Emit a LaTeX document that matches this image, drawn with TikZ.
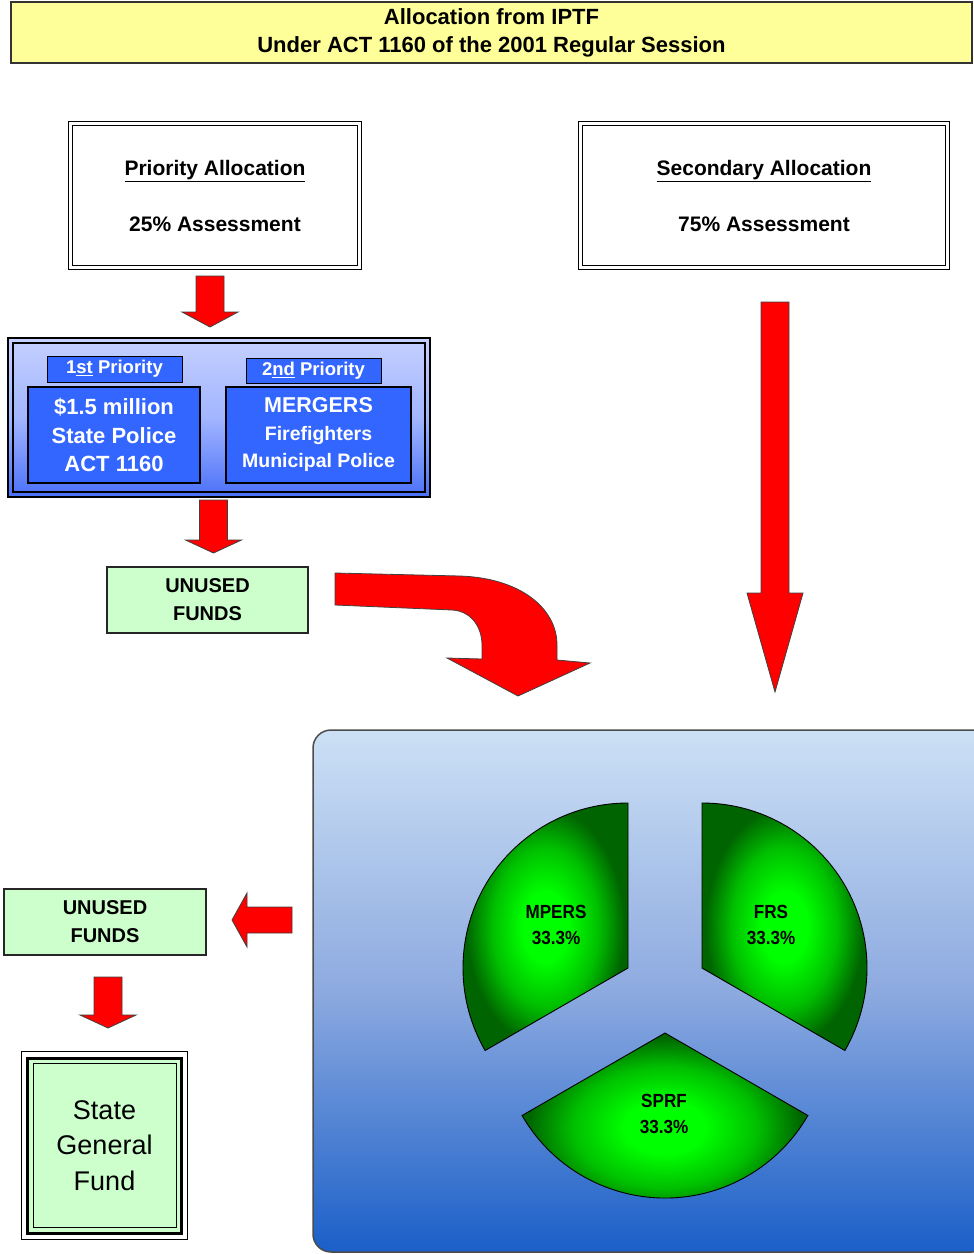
\documentclass[tikz,border=0pt]{standalone}
\usepackage{fontspec}
\setmainfont{Liberation Sans}
\newfontfamily\narrowfont[FakeStretch=0.9]{Liberation Sans}
\usetikzlibrary{calc}

\definecolor{titleyellow}{HTML}{FFFF99}
\definecolor{fundgreen}{HTML}{CCFFCC}
\definecolor{tagblue}{HTML}{3366FF}
\definecolor{blktop}{HTML}{C4D0FF}
\definecolor{blkmid}{HTML}{A2B5FF}
\definecolor{blkbot}{HTML}{4A70F8}
\definecolor{paneltop}{HTML}{CCE0F5}
\definecolor{panelmid}{HTML}{8DAAE0}
\definecolor{panelbot}{HTML}{1A5FC8}
\definecolor{arrowred}{HTML}{FF0000}
\definecolor{sliceA}{HTML}{00FF00}
\definecolor{sliceB}{HTML}{00C000}
\definecolor{sliceC}{HTML}{006400}

\newcommand{\setsz}[2]{\fontsize{#1}{#2}\selectfont}
\pgfdeclareradialshading{greenslice}{\pgfpoint{0bp}{0bp}}{color(0bp)=(sliceA); color(7bp)=(sliceA); color(16bp)=(sliceB); color(24bp)=(sliceC); color(50bp)=(sliceC)}

% block arrows: start, tip, head length
\newcommand{\downblock}[3]{%
  \filldraw[redarrow] let \p1=(#1), \p2=(#2) in
    (\x1-14pt,\y1) -- (\x1+14pt,\y1) -- (\x1+14pt,\y2+#3) -- (\x1+28pt,\y2+#3)
    -- (\x1,\y2) -- (\x1-28pt,\y2+#3) -- (\x1-14pt,\y2+#3) -- cycle;}
\newcommand{\leftblock}[3]{%
  \filldraw[redarrow] let \p1=(#1), \p2=(#2) in
    (\x1,\y1+13pt) -- (\x2+#3,\y1+13pt) -- (\x2+#3,\y1+27pt) -- (\x2,\y1)
    -- (\x2+#3,\y1-27pt) -- (\x2+#3,\y1-13pt) -- (\x1,\y1-13pt) -- cycle;}

\tikzset{
  titlebox/.style={draw=black!80, line width=1.2pt, fill=titleyellow, inner sep=0pt, align=center, font=\bfseries\setsz{22}{28}},
  allocbox/.style={draw, double, double distance=2.4pt, line width=1.3pt, fill=white, inner sep=0pt, align=center, minimum height=144pt, font=\bfseries\setsz{21}{25}},
  prioframe/.style={draw, line width=1.4pt, inner sep=0pt, top color=blktop, bottom color=blkbot, middle color=blkmid},
  priotag/.style={draw, line width=1pt, fill=tagblue, text=white, inner sep=0pt, minimum width=135pt, font=\bfseries\setsz{18.5}{22}},
  priobox/.style={draw, line width=1.2pt, fill=tagblue, text=white, inner sep=0pt, align=center, minimum height=96pt},
  fundsbox/.style={draw=black!85, line width=1.2pt, fill=fundgreen, inner sep=0pt, align=center, minimum width=201pt, minimum height=66pt, font=\bfseries\setsz{20}{28}},
  redarrow/.style={fill=arrowred, draw=black!75, line width=0.8pt},
  slice/.style={draw=black, line width=0.9pt, shading=greenslice},
  slicetext/.style={font=\narrowfont\bfseries\setsz{19}{26}, align=center, inner sep=0pt},
}

\begin{document}
\begin{tikzpicture}[x=1pt,y=-1pt]
\useasboundingbox (0,0) rectangle (974,1254);
\fill[white] (0,0) rectangle (974,1254);

\node[titlebox, minimum width=961pt, minimum height=61pt] (title) at (491.5,32.5) {Allocation from IPTF\\Under ACT 1160 of the 2001 Regular Session};

\node[allocbox, minimum width=289pt] (prio) at (215,195.5) {\underline{Priority Allocation}\\[31pt]25\% Assessment};
\node[allocbox, minimum width=367pt] (second) at (764,195.5) {\underline{Secondary Allocation}\\[31pt]75\% Assessment};

% priority block
\node[prioframe, minimum width=422pt, minimum height=159pt] (prioblk) at (219,417.5) {};
\node[draw, line width=1.2pt, minimum width=412pt, minimum height=149pt] (prioin) at (219,417.5) {};
\node[priotag, minimum height=26pt] (tag1) at (114.5,369) {1\underline{st} Priority};
\node[priotag, minimum height=25pt] (tag2) at (313.5,370.5) {2\underline{nd} Priority};
\node[priobox, minimum width=172pt, font=\bfseries\setsz{22}{28.5}] (police) at (114,435) {\$1.5 million\\State Police\\ACT 1160};
\node[priobox, minimum width=185pt, font=\bfseries\setsz{19.5}{27.5}] (mergers) at (318.5,435) {{\setsz{21.5}{27.5}MERGERS}\\Firefighters\\Municipal Police};

\node[fundsbox] (unused) at (207.5,600) {UNUSED\\FUNDS};

% panel and pie
\node[draw=black!70, line width=1.5pt, rounded corners=18pt, top color=paneltop, bottom color=panelbot, middle color=panelmid, minimum width=677pt, minimum height=522pt] (panel) at (651.5,991) {};
\shadedraw[slice] (628,968) -- ++(0,-165) arc[start angle=-90, end angle=-210, radius=165] -- cycle;
\shadedraw[slice] (702,968) -- ++(0,-165) arc[start angle=-90, end angle=30, radius=165] -- cycle;
\shadedraw[slice] (665,1033) -- ++(-210:165) arc[start angle=-210, end angle=-330, radius=165] -- cycle;
\node[slicetext] (mpers) at (556,925) {MPERS\\33.3\%};
\node[slicetext] (frs) at (771,925) {FRS\\33.3\%};
\node[slicetext] (sprf) at (664,1114) {SPRF\\33.3\%};

\node[fundsbox, minimum width=202pt] (unused2) at (105,922) {UNUSED\\FUNDS};

% state general fund
\node[draw, line width=1pt, fill=white, minimum width=165.5pt, minimum height=187.5pt] (fund) at (104.25,1145.25) {};
\node[draw, line width=3pt, fill=fundgreen, minimum width=154pt, minimum height=175.5pt] (fundmid) at (104.5,1145.75) {};
\node[draw, line width=1pt, minimum width=143pt, minimum height=163.5pt, align=center, font=\setsz{27}{35.5}] (fundtext) at (104.5,1145.25) {State\\General\\Fund};

% arrows
\coordinate (a1top) at (210,276);
\coordinate (a1tip) at (210,327);
\coordinate (a2top) at (213.5,500);
\coordinate (a2tip) at (213.5,553);
\coordinate (a3top) at (108,977);
\coordinate (a3tip) at (108,1028);
\coordinate (bigtop) at (775,302);
\coordinate (bigtip) at (775,692);
\coordinate (lefttail) at (292,920);
\coordinate (lefttip) at (232,920);
\downblock{a1top}{a1tip}{15pt}
\downblock{a2top}{a2tip}{13pt}
\downblock{a3top}{a3tip}{13pt}
\downblock{bigtop}{bigtip}{99pt}
\leftblock{lefttail}{lefttip}{15pt}
\filldraw[redarrow] (335,573) -- (460,576) .. controls (520,578) and (557,608) .. (557,645) -- (557,660) -- (590,663) -- (518,696) -- (447,658) -- (482,659) -- (482,645) .. controls (482,628) and (472,611) .. (452,610) -- (335,605) -- cycle;
\end{tikzpicture}
\end{document}
